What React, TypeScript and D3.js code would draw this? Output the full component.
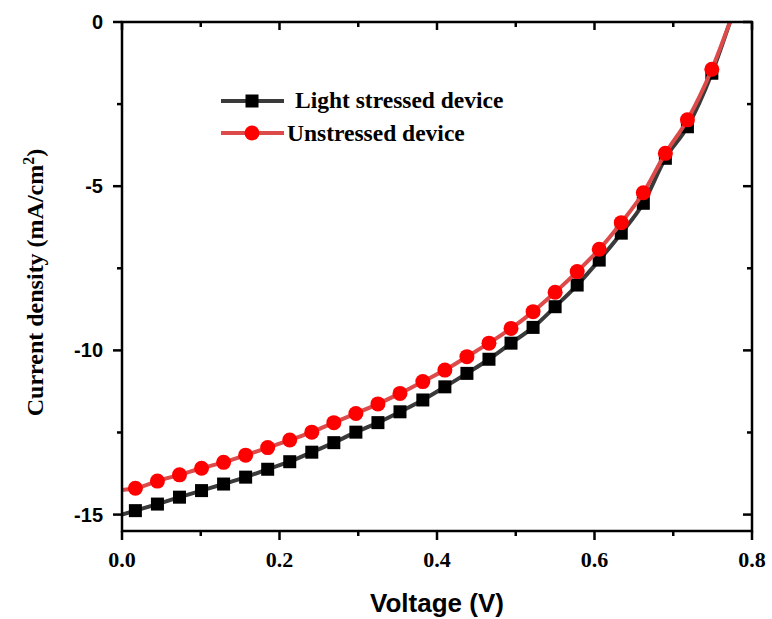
import React from 'react'
import * as d3 from 'd3'

// marker voltages (V)
const voltage = [0.017, 0.045, 0.073, 0.101, 0.129, 0.157, 0.185, 0.213, 0.241, 0.269, 0.297, 0.325, 0.353,
  0.382, 0.41, 0.438, 0.466, 0.494, 0.522, 0.55, 0.578, 0.606, 0.634, 0.662, 0.69, 0.718, 0.749]

// current density (mA/cm2)
const lightStressed = [-14.88, -14.68, -14.47, -14.27, -14.07, -13.86, -13.62, -13.39, -13.1, -12.81, -12.49, -12.2,
  -11.87, -11.51, -11.11, -10.7, -10.27, -9.78, -9.3, -8.67, -8.01, -7.25, -6.43, -5.52, -4.15, -3.19, -1.56]
const unstressed = [-14.2, -13.98, -13.79, -13.59, -13.41, -13.19, -12.96, -12.73, -12.49, -12.2, -11.92, -11.63,
  -11.31, -10.95, -10.6, -10.19, -9.78, -9.33, -8.82, -8.23, -7.6, -6.92, -6.11, -5.2, -4.0, -2.98, -1.44]

// curve ends: short-circuit current at 0 V, open-circuit voltage
const jscLight = -15.0
const jscUnstressed = -14.25
const voc = 0.772

const xTicks = [0, 0.2, 0.4, 0.6, 0.8]
const xMinor = [0.1, 0.3, 0.5, 0.7]
const yTicks = [0, -5, -10, -15]
const yMinor = [-2.5, -7.5, -12.5]

const seriesNames = ['Light stressed device', 'Unstressed device']

export default function App() {
  const width = 772
  const height = 619
  const marginLeft = 122
  const marginRight = 20
  const marginTop = 22
  const marginBottom = 88

  const x = d3.scaleLinear().domain([0, 0.8]).range([marginLeft, width - marginRight])
  const y = d3.scaleLinear().domain([-15.5, 0]).range([height - marginBottom, marginTop])

  const line = d3.line<[number, number]>()
    .x(d => x(d[0]))
    .y(d => y(d[1]))
    .curve(d3.curveMonotoneX)

  const blackPts: [number, number][] = [[0, jscLight], ...voltage.map((v, i) => [v, lightStressed[i]] as [number, number]), [voc, 0]]
  const redPts: [number, number][] = [[0, jscUnstressed], ...voltage.map((v, i) => [v, unstressed[i]] as [number, number]), [voc, 0]]

  const x0 = x(0), x1 = x(0.8), y0 = y(-15.5), y1 = y(0)
  const serif = '"Liberation Serif", "Times New Roman", serif'
  const sans = '"Liberation Sans", Arial, sans-serif'

  return (
    <svg width={width} height={height} style={{ position: 'absolute', left: 0, top: 0, background: 'white' }}>
      <defs>
        <clipPath id="plot">
          <rect x={x0} y={y1} width={x1 - x0} height={y0 - y1} />
        </clipPath>
      </defs>

      {/* data */}
      <g clipPath="url(#plot)">
        <path d={line(blackPts) || ''} fill="none" stroke="#3a3a3a" strokeWidth={4} />
        {voltage.map((v, i) => (
          <rect key={'b' + i} x={x(v) - 6.5} y={y(lightStressed[i]) - 6.5} width={13} height={13} fill="#000" />
        ))}
        <path d={line(redPts) || ''} fill="none" stroke="#dd4a4a" strokeWidth={4} />
        {voltage.map((v, i) => (
          <circle key={'r' + i} cx={x(v)} cy={y(unstressed[i])} r={7.5} fill="#f00" />
        ))}
      </g>

      {/* frame */}
      <rect x={x0} y={y1} width={x1 - x0} height={y0 - y1} fill="none" stroke="#000" strokeWidth={2.5} />

      {/* bottom + top ticks */}
      {xTicks.map(t => (
        <g key={'xt' + t}>
          <line x1={x(t)} x2={x(t)} y1={y0} y2={y0 + 9} stroke="#000" strokeWidth={2.5} />
          <line x1={x(t)} x2={x(t)} y1={y1} y2={y1 + 8} stroke="#000" strokeWidth={2.5} />
          <text x={x(t)} y={567} textAnchor="middle" fontFamily={serif} fontWeight="bold" fontSize={22}>
            {d3.format('.1f')(t)}
          </text>
        </g>
      ))}
      {xMinor.map(t => (
        <g key={'xm' + t}>
          <line x1={x(t)} x2={x(t)} y1={y0} y2={y0 + 5} stroke="#000" strokeWidth={2.5} />
          <line x1={x(t)} x2={x(t)} y1={y1} y2={y1 + 5} stroke="#000" strokeWidth={2.5} />
        </g>
      ))}

      {/* left + right ticks */}
      {yTicks.map(t => (
        <g key={'yt' + t}>
          <line x1={x0 - 9} x2={x0} y1={y(t)} y2={y(t)} stroke="#000" strokeWidth={2.5} />
          <line x1={x1 - 9} x2={x1} y1={y(t)} y2={y(t)} stroke="#000" strokeWidth={2.5} />
          <text x={x0 - 19} y={y(t) + 7} textAnchor="end" fontFamily={sans} fontWeight="bold" fontSize={20}>
            {t}
          </text>
        </g>
      ))}
      {yMinor.map(t => (
        <g key={'ym' + t}>
          <line x1={x0 - 5} x2={x0} y1={y(t)} y2={y(t)} stroke="#000" strokeWidth={2.5} />
          <line x1={x1 - 5} x2={x1} y1={y(t)} y2={y(t)} stroke="#000" strokeWidth={2.5} />
        </g>
      ))}

      {/* axis titles */}
      <text x={(x0 + x1) / 2} y={612} textAnchor="middle" fontFamily={sans} fontWeight="bold" fontSize={26}>
        Voltage (V)
      </text>
      <text transform={`translate(43,${(y0 + y1) / 2 + 6}) rotate(-90)`} textAnchor="middle" fontFamily={serif}
        fontWeight="bold" fontSize={24}>
        Current density (mA/cm<tspan dy={-9} fontSize={16}>2</tspan><tspan dy={9}>)</tspan>
      </text>

      {/* legend */}
      <g>
        <line x1={221} x2={284} y1={101} y2={101} stroke="#3a3a3a" strokeWidth={4} />
        <rect x={252 - 6.5} y={101 - 6.5} width={13} height={13} fill="#000" />
        <text x={295} y={108} fontFamily={serif} fontWeight="bold" fontSize={23.5}>{seriesNames[0]}</text>
        <line x1={221} x2={284} y1={133} y2={133} stroke="#dd4a4a" strokeWidth={4} />
        <circle cx={252} cy={133} r={7.5} fill="#f00" />
        <text x={287} y={141} fontFamily={serif} fontWeight="bold" fontSize={23.5}>{seriesNames[1]}</text>
      </g>
    </svg>
  )
}
